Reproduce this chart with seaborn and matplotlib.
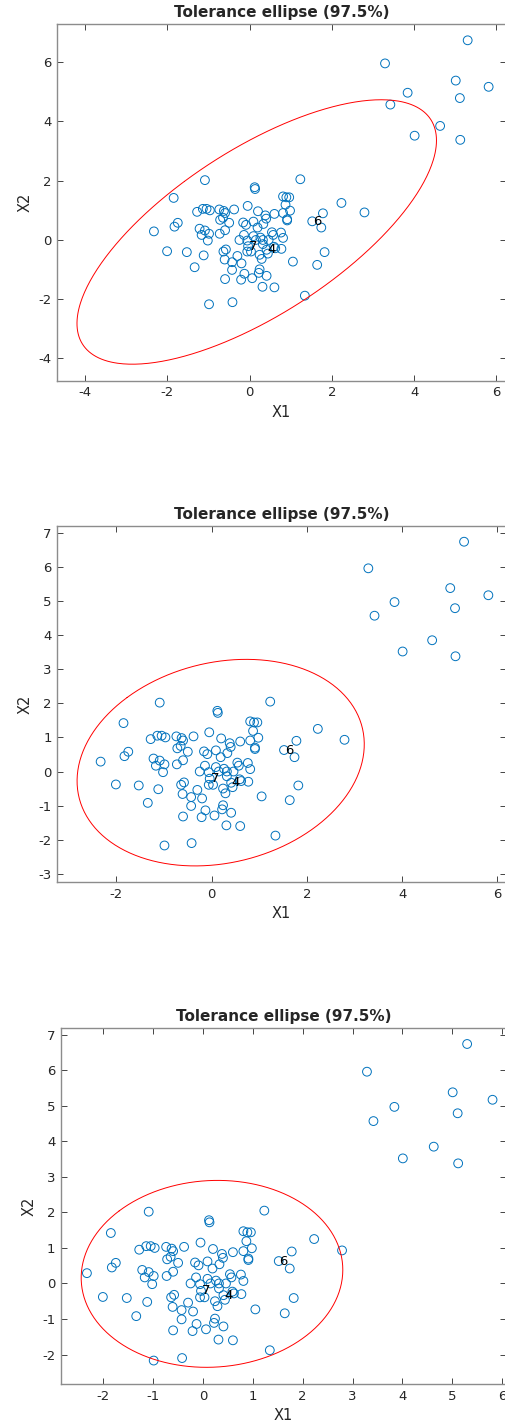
import numpy as np
import pandas as pd
import matplotlib
matplotlib.use("Agg")
import matplotlib.pyplot as plt
import seaborn as sns

# ---- data ----
X1 = [-2.33, -2.01, -1.85, 0.41, -1.83, 1.52, -0.04, -1.75, -1.53, -1.34,
      -1.28, -1.22, -1.17, -1.14, -1.12, -1.09, -1.09, -1.05, -1.02, -0.99,
      -0.97, -0.99, -0.74, -0.73, -0.72, -0.65, -0.63, -0.60, -0.64, -0.58,
      -0.60, -0.61, -0.60, -0.50, -0.42, -0.43, -0.43, -0.38, -0.30, -0.25,
      -0.21, -0.20, -0.16, -0.14, -0.13, -0.09, -0.05, -0.06, -0.06, 0.03,
      0.06, 0.09, 0.09, 0.12, 0.13, 0.15, 0.19, 0.20, 0.22, 0.24,
      0.24, 0.26, 0.29, 0.31, 0.32, 0.33, 0.32, 0.38, 0.40, 0.41,
      0.44, 0.46, 0.54, 0.57, 0.59, 0.60, 0.60, 0.62, 0.76, 0.77,
      0.81, 0.81, 0.81, 0.87, 0.89, 0.96, 0.91, 0.91, 0.98, 1.05,
      1.23, 1.34, 1.64, 1.74, 1.78, 1.82, 2.23, 2.79,
      3.29, 5.30, 5.01, 5.81, 3.84, 3.42, 5.11, 4.63, 4.01, 5.12]
X2 = [0.29, -0.38, 1.42, -0.33, 0.45, 0.63, -0.21, 0.58, -0.41, -0.92,
      0.95, 0.38, 0.17, 1.05, -0.52, 2.02, 0.32, 1.05, -0.02, 0.21,
      1.00, -2.17, 1.03, 0.21, 0.68, 0.75, 0.98, 0.91, -0.39, -0.32,
      0.33, -0.66, -1.32, 0.58, -2.10, -0.75, -1.01, 1.03, -0.54, 0.00,
      -1.34, -0.79, 0.59, 0.17, -1.14, 0.51, 1.15, -0.39, -0.02, -0.39,
      -1.29, 0.62, 0.13, 1.78, 1.72, 0.00, 0.42, 0.97, -1.11, -0.99,
      -0.50, 0.08, -0.64, -1.58, 0.00, 0.54, -0.14, 0.83, 0.72, -1.21,
      -0.46, 0.00, 0.26, 0.17, -0.23, 0.88, -1.60, -0.28, 0.25, -0.30,
      0.07, 1.47, 0.91, 1.19, 1.44, 1.44, 0.70, 0.66, 0.99, -0.73,
      2.05, -1.88, -0.84, 0.42, 0.90, -0.41, 1.25, 0.93,
      5.96, 6.74, 5.38, 5.17, 4.97, 4.57, 4.79, 3.85, 3.52, 3.38]
labelled_rows = [4, 6, 7]   # 1-based unit numbers written on the plot

# tolerance ellipses: centre and scatter matrix per panel
ell_centres = [(0.17, 0.27), (0.19, 0.26), (0.18, 0.27)]
ell_covs = [[[2.59, 1.83], [1.83, 2.70]],
            [[1.232, 0.22], [0.22, 1.244]],
            [[0.934, 0.04], [0.04, 0.938]]]
chi2_975 = 7.3778

titles = ["Tolerance ellipse (97.5%)"] * 3
xlims = [(-4.68, 6.22), (-3.24, 6.17), (-2.85, 6.07)]
ylims = [(-4.75, 7.28), (-3.25, 7.21), (-2.83, 7.19)]
xticks = [[-4, -2, 0, 2, 4, 6], [-2, 0, 2, 4, 6], list(range(-2, 7))]
yticks = [[-4, -2, 0, 2, 4, 6], list(range(-3, 8)), list(range(-2, 8))]

df = pd.DataFrame({"X1": X1, "X2": X2})

sns.set_style("white")
plt.rcParams["font.family"] = ["DejaVu Sans"]
plt.rcParams["axes.unicode_minus"] = False

W, H = 505, 1425
fig = plt.figure(figsize=(W / 100, H / 100), dpi=100)
# axes boxes in pixels: left, top, right, bottom
boxes = [(57.3, 24.3, 505.5, 380.7), (57.3, 525.7, 505.5, 882.3), (61.0, 1028.0, 505.5, 1384.0)]

blue = "#0072BD"
t = np.linspace(0, 2 * np.pi, 400)
for i in range(3):
    l, tp, r, b = boxes[i]
    ax = fig.add_axes([l / W, 1 - b / H, (r - l) / W, (b - tp) / H])
    sns.scatterplot(data=df, x="X1", y="X2", ax=ax, marker="o", s=40,
                    facecolor="none", edgecolor=blue, linewidth=0.7, legend=False)
    # ellipse from centre and covariance
    S = np.array(ell_covs[i])
    vals, vecs = np.linalg.eigh(S)
    circ = np.vstack([np.cos(t), np.sin(t)])
    pts = vecs @ (np.sqrt(vals * chi2_975)[:, None] * circ)
    ax.plot(pts[0] + ell_centres[i][0], pts[1] + ell_centres[i][1], color="#FF0000", lw=0.7)
    for u in labelled_rows:
        ax.annotate(str(u), (X1[u - 1], X2[u - 1]), xytext=(0.5, 0), textcoords="offset points",
                    ha="left", va="center", fontsize=9.5, color="black")
    ax.set_xlim(*xlims[i])
    ax.set_ylim(*ylims[i])
    ax.set_xticks(xticks[i])
    ax.set_yticks(yticks[i])
    ax.set_title(titles[i], fontsize=11, fontweight="bold", pad=5)
    ax.set_xlabel("X1", fontsize=10.5, color="#262626", labelpad=4)
    ax.set_ylabel("X2", fontsize=10.5, color="#262626", labelpad=4)
    ax.tick_params(direction="in", length=4, width=0.6, color="#262626",
                   labelsize=9.5, labelcolor="#262626", pad=4,
                   top=True, right=True, bottom=True, left=True)
    for sp in ax.spines.values():
        sp.set_visible(True)
        sp.set_color("#8c8c8c")
        sp.set_linewidth(1.0)

fig.savefig("out.png", dpi=100)
